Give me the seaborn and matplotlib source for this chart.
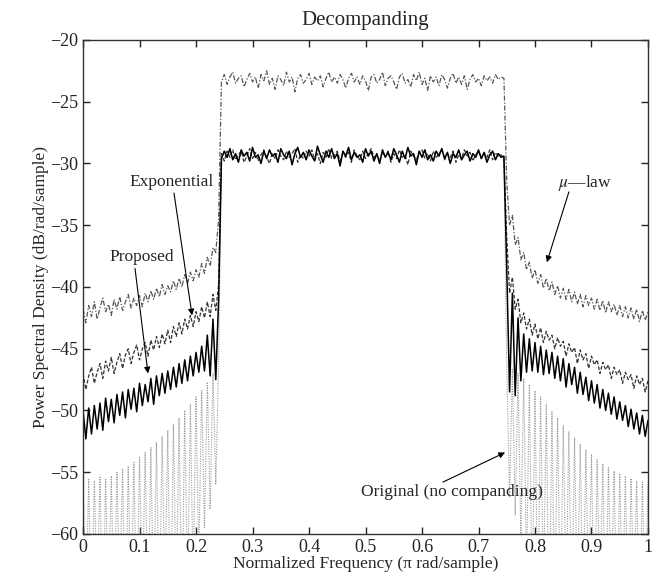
import matplotlib
matplotlib.use("Agg")
import matplotlib.pyplot as plt
import seaborn as sns
import numpy as np

# PSD traces, on a 0.005 grid of normalized frequency
# left stop band 0..0.24, pass band 0.245..0.745, right stop band 0.75..1.0

prop_left = [-50.0, -52.3, -49.8, -51.9, -49.6, -51.5, -49.4, -51.6, -49.0, -50.9,
             -49.1, -51.0, -48.7, -50.4, -48.5, -50.6, -48.3, -49.9, -48.2, -50.1,
             -47.8, -49.6, -47.9, -49.3, -47.4, -49.5, -47.2, -48.8, -47.0, -48.6,
             -46.8, -48.3, -46.5, -48.1, -46.2, -47.8, -45.9, -47.6, -45.6, -47.2,
             -45.3, -46.9, -44.8, -46.8, -43.9, -47.2, -42.6, -47.5, -41.0]
exp_left = [-47.0, -48.3, -47.2, -46.5, -47.8, -46.9, -46.2, -47.4, -46.0, -46.8,
            -45.7, -47.0, -46.1, -45.4, -46.6, -45.5, -45.0, -46.2, -45.3, -44.7,
            -45.9, -45.0, -44.5, -45.6, -44.3, -45.1, -44.0, -44.9, -43.8, -44.6,
            -43.5, -44.5, -43.2, -44.0, -42.9, -43.8, -42.6, -43.4, -42.3, -43.2,
            -42.0, -42.8, -41.6, -42.5, -41.2, -42.4, -40.6, -41.9, -39.8]
mu_left = [-41.8, -42.9, -41.5, -42.4, -41.2, -42.6, -41.7, -40.9, -42.0, -41.4,
           -42.3, -41.0, -41.8, -40.8, -41.9, -41.2, -40.6, -41.7, -40.9, -41.5,
           -40.7, -41.6, -40.5, -41.2, -40.3, -41.0, -40.1, -40.8, -39.8, -40.6,
           -39.9, -40.4, -39.5, -40.2, -39.3, -40.0, -39.0, -39.7, -38.8, -39.5,
           -38.6, -39.2, -38.1, -38.9, -37.6, -38.3, -36.8, -37.2, -34.5]
orig_left = [-55.6, -66, -55.5, -67, -55.7, -65, -55.4, -68, -55.5, -66,
             -55.3, -67, -55.0, -65, -54.7, -68, -54.5, -66, -54.2, -67,
             -53.8, -65, -53.4, -68, -53.0, -66, -52.6, -67, -52.1, -65,
             -51.6, -68, -51.1, -66, -50.6, -67, -50.0, -65, -49.5, -64,
             -48.9, -62, -48.4, -59.5, -47.7, -58, -47.0, -56, -46.2]

prop_pass = [-29.6, -29.0, -29.5, -28.8, -29.7, -29.2, -29.9, -28.9, -29.4, -29.1,
             -29.8, -28.7, -29.5, -29.3, -30.0, -29.0, -29.6, -28.9, -29.4, -29.2,
             -29.9, -28.8, -29.3, -29.6, -29.0, -30.1, -29.2, -28.7, -29.5, -29.1,
             -29.7, -28.9, -29.4, -29.8, -28.6, -29.3, -29.9, -29.0, -29.5, -28.8,
             -29.6, -29.2, -30.2, -29.0, -29.4, -28.7, -29.7, -29.1, -29.5, -29.3,
             -29.9, -28.8, -29.4, -29.0, -29.8, -29.2, -30.0, -28.9, -29.5, -29.1,
             -29.7, -28.8, -29.3, -29.9, -29.0, -29.6, -28.7, -29.4, -29.2, -30.1,
             -29.0, -29.5, -28.9, -29.7, -29.3, -29.8, -29.0, -29.4, -28.8, -29.6,
             -29.1, -30.0, -29.2, -29.5, -28.9, -29.7, -29.3, -29.0, -29.8, -29.2,
             -29.5, -28.9, -29.6, -29.1, -29.9, -29.3, -29.0, -29.7, -29.2, -29.5,
             -29.4]
exp_pass = [-29.2, -29.8, -29.0, -29.5, -28.9, -29.7, -29.3, -29.0, -29.9, -29.4,
            -28.8, -29.6, -29.1, -29.8, -29.3, -28.9, -29.5, -30.0, -29.2, -29.6,
            -28.9, -29.4, -29.7, -29.0, -29.5, -29.2, -28.8, -29.9, -29.3, -29.6,
            -29.0, -29.4, -28.9, -29.7, -29.2, -30.0, -29.1, -29.5, -28.8, -29.6,
            -29.3, -29.0, -29.8, -29.2, -29.5, -29.1, -29.9, -28.9, -29.4, -29.7,
            -29.0, -29.6, -29.2, -28.8, -29.5, -29.3, -29.8, -29.1, -29.4, -29.0,
            -29.9, -29.2, -29.6, -28.9, -29.5, -29.3, -30.1, -29.0, -29.4, -29.7,
            -29.1, -28.9, -29.6, -29.2, -29.8, -29.0, -29.5, -29.3, -28.8, -29.7,
            -29.2, -29.5, -29.0, -29.9, -29.3, -29.6, -28.9, -29.4, -29.1, -29.8,
            -29.3, -29.0, -29.6, -29.2, -29.5, -28.9, -29.7, -29.1, -29.4, -29.3,
            -29.6]
mu_pass = [-23.4, -22.8, -23.6, -23.0, -22.6, -23.5, -23.1, -22.9, -23.8, -23.2,
           -22.7, -23.4, -23.0, -23.9, -22.8, -23.3, -22.5, -23.6, -23.1, -24.0,
           -22.9, -23.2, -23.7, -22.6, -23.4, -23.0, -24.2, -23.1, -22.8, -23.5,
           -23.2, -22.7, -23.6, -23.0, -23.3, -22.9, -23.8, -23.1, -22.6, -23.4,
           -23.0, -23.5, -22.8, -23.2, -23.9, -23.1, -22.7, -23.4, -23.0, -23.6,
           -22.9, -23.3, -24.1, -23.0, -22.8, -23.5, -23.2, -22.6, -23.7, -23.1,
           -22.9, -23.4, -24.0, -23.0, -22.7, -23.5, -23.2, -23.8, -22.8, -23.3,
           -22.6, -23.6, -23.1, -24.1, -22.9, -23.4, -23.0, -23.7, -22.8, -23.2,
           -23.9, -23.1, -22.7, -23.5, -23.0, -23.6, -22.9, -24.0, -23.2, -22.8,
           -23.4, -23.1, -23.7, -22.9, -23.3, -23.0, -23.5, -22.8, -23.2, -23.0,
           -23.1]
orig_pass = list(prop_pass)  # sits under the solid trace

prop_right = [-38.5, -48.5, -40.5, -48.8, -42.5, -47.6, -43.8, -46.9, -44.2, -46.8,
              -44.5, -46.9, -44.8, -47.1, -45.1, -47.0, -45.3, -47.4, -45.6, -47.6,
              -45.8, -48.1, -46.2, -47.9, -46.5, -48.6, -46.9, -48.7, -47.3, -49.2,
              -47.6, -49.4, -47.9, -49.8, -48.3, -50.0, -48.6, -50.3, -48.9, -50.7,
              -49.3, -50.8, -49.6, -51.3, -49.9, -51.5, -50.2, -51.9, -50.4, -52.1,
              -50.8]
exp_right = [-36.0, -40.5, -39.2, -41.8, -41.0, -42.9, -42.1, -43.4, -42.6, -43.9,
             -43.0, -44.2, -43.3, -44.5, -43.6, -44.3, -43.9, -45.0, -44.1, -44.8,
             -44.4, -45.6, -44.6, -45.3, -44.9, -46.2, -45.1, -45.9, -45.4, -46.6,
             -45.6, -46.3, -45.9, -47.0, -46.1, -46.7, -46.3, -47.4, -46.5, -47.1,
             -46.7, -47.8, -46.9, -47.5, -47.1, -48.2, -47.2, -47.9, -47.4, -48.5,
             -47.6]
mu_right = [-31.5, -35.0, -34.2, -36.6, -36.0, -37.8, -37.2, -38.6, -38.0, -39.3,
            -38.6, -39.7, -39.0, -40.1, -39.3, -40.3, -39.6, -40.6, -39.9, -40.9,
            -40.1, -41.0, -40.2, -41.2, -40.4, -41.4, -40.6, -41.6, -40.7, -41.5,
            -40.9, -41.8, -41.0, -41.9, -41.1, -42.1, -41.2, -42.0, -41.4, -42.3,
            -41.5, -42.4, -41.6, -42.5, -41.7, -42.6, -41.8, -42.8, -41.9, -42.7,
            -42.0]
orig_right = [-46.3, -57.0, -46.6, -58.5, -47.0, -60.5, -47.4, -63, -47.9, -66,
              -48.4, -67, -48.9, -65, -49.5, -68, -50.1, -66, -50.6, -67,
              -51.2, -65, -51.7, -68, -52.2, -66, -52.7, -67, -53.2, -65,
              -53.6, -68, -54.0, -66, -54.3, -67, -54.6, -65, -54.9, -68,
              -55.1, -66, -55.3, -67, -55.5, -65, -55.7, -68, -55.8, -66,
              -55.9]

x_ticks = [0, 0.1, 0.2, 0.3, 0.4, 0.5, 0.6, 0.7, 0.8, 0.9, 1]
x_tick_labels = ["0", "0.1", "0.2", "0.3", "0.4", "0.5", "0.6", "0.7", "0.8", "0.9", "1"]
y_ticks = [-60, -55, -50, -45, -40, -35, -30, -25, -20]

orig = orig_left + orig_pass + orig_right
mu = mu_left + mu_pass + mu_right
expo = exp_left + exp_pass + exp_right
prop = prop_left + prop_pass + prop_right
for s in (orig, mu, expo, prop):
    assert len(s) == 201, len(s)
freq = np.linspace(0, 1, 201)

sns.set_style("ticks")
plt.rcParams['font.family'] = ['Liberation Serif', 'DejaVu Serif']
plt.rcParams['mathtext.fontset'] = 'stix'

fig = plt.figure(figsize=(6.6, 5.82), dpi=100)
ax = fig.add_axes([0.1258, 0.0825, 0.8560, 0.8488])

sns.lineplot(x=freq, y=orig, ax=ax, color='#9a9a9a', lw=0.8,
             linestyle=(0, (1, 1.2)), estimator=None)
sns.lineplot(x=freq, y=mu, ax=ax, color='#555555', lw=0.9,
             linestyle=(0, (4, 1.5, 1, 1.5)), estimator=None)
sns.lineplot(x=freq, y=expo, ax=ax, color='#333333', lw=0.9,
             linestyle=(0, (3, 1.5)), estimator=None)
sns.lineplot(x=freq, y=prop, ax=ax, color='black', lw=1.1, estimator=None)

ax.set_xlim(0, 1)
ax.set_ylim(-60, -20)
ax.set_xticks(x_ticks)
ax.set_xticklabels(x_tick_labels)
ax.set_yticks(y_ticks)
ax.tick_params(direction='in', top=True, right=True, length=5, width=1,
               labelsize=13, colors='#222222')
for sp in ax.spines.values():
    sp.set_color('#333333')
    sp.set_linewidth(1.0)

ax.set_title("Decompanding", fontsize=15, pad=11)
ax.set_xlabel("Normalized Frequency (π rad/sample)", fontsize=12.5, labelpad=0)
ax.set_ylabel("Power Spectral Density (dB/rad/sample)", fontsize=12.5, labelpad=1)

arw = dict(arrowstyle='-|>', lw=0.8, color='black', mutation_scale=9,
           shrinkA=0, shrinkB=0)
ax.text(0.156, -31.5, "Exponential", ha='center', va='center', fontsize=12.5)
ax.annotate("", xy=(0.193, -42.3), xytext=(0.161, -32.4), arrowprops=arw)
ax.text(0.104, -37.6, "Proposed", ha='center', va='center', fontsize=12.5)
ax.annotate("", xy=(0.115, -47.0), xytext=(0.092, -38.5), arrowprops=arw)
ax.text(0.888, -31.6, r"$\mu$" + "\u2014law", ha='center', va='center', fontsize=12.5)
ax.annotate("", xy=(0.821, -38.0), xytext=(0.86, -32.3), arrowprops=arw)
ax.text(0.653, -56.6, "Original (no companding)", ha='center', va='center', fontsize=12.5)
ax.annotate("", xy=(0.747, -53.4), xytext=(0.637, -55.8), arrowprops=arw)

plt.savefig("out.png", dpi=100)
